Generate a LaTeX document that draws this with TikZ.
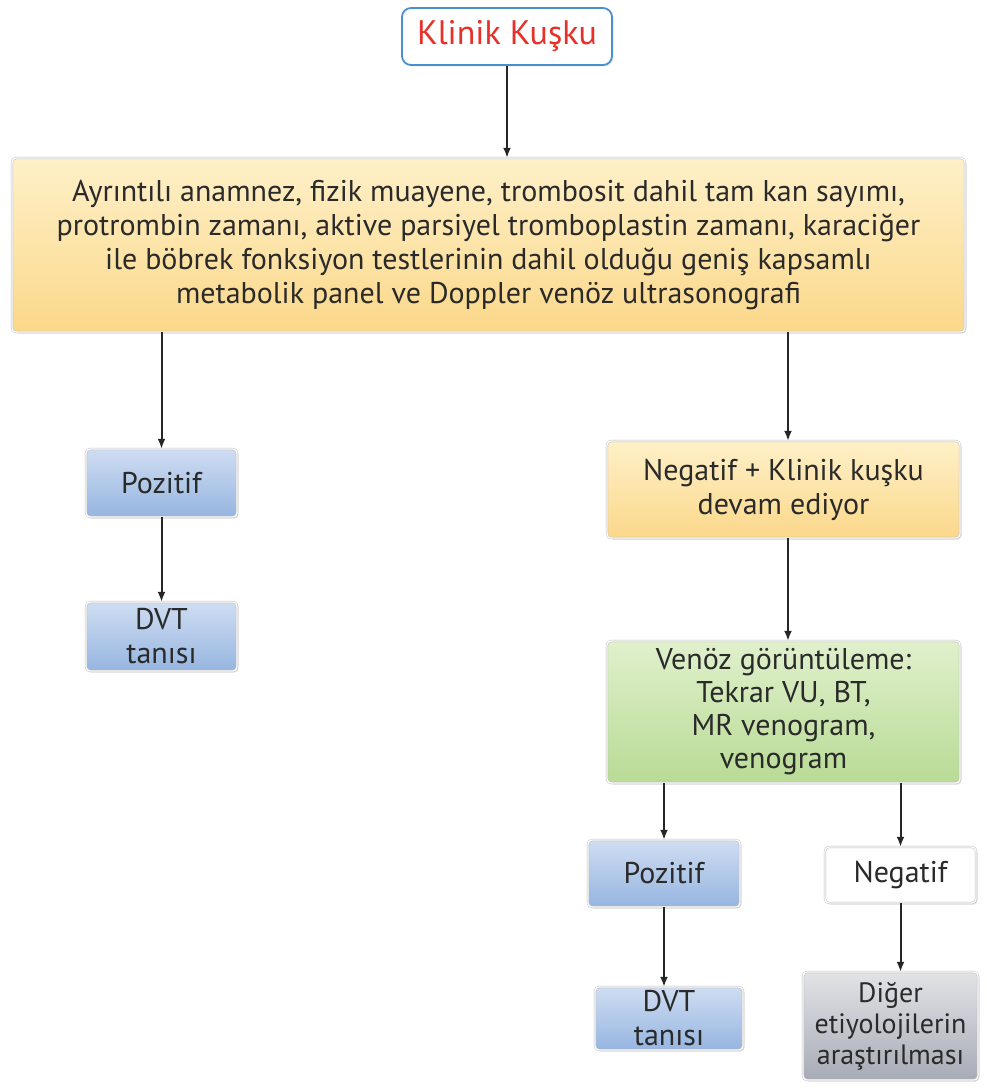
\documentclass[tikz,border=0pt]{standalone}
\usepackage{fontspec}
\setmainfont{PT Sans}
\usetikzlibrary{arrows.meta,shadows}
\definecolor{txtgray}{HTML}{2A2A2A}
\definecolor{kred}{HTML}{E8302A}
\definecolor{kblue}{HTML}{4A90D0}
\definecolor{bluetop}{HTML}{CFDDF2}
\definecolor{bluebot}{HTML}{96B5E0}
\definecolor{yeltop}{HTML}{FEF0C8}
\definecolor{yelbot}{HTML}{FBD88A}
\definecolor{grntop}{HTML}{E0F0CC}
\definecolor{grnbot}{HTML}{B8DB95}
\definecolor{grytop}{HTML}{E2E3E7}
\definecolor{grybot}{HTML}{A7ABB5}
\begin{document}
\begin{tikzpicture}
  [x=1pt,y=-1pt,
   every node/.style={text=txtgray,align=center,inner sep=0pt},
   box/.style={rounded corners=4pt,draw=gray!55,double=white,double distance=1.4pt,
     drop shadow={opacity=0.25,shadow xshift=1.5pt,shadow yshift=-1.5pt},
     font=\fontsize{30}{34}\selectfont},
   bluebox/.style={box,top color=bluetop,bottom color=bluebot},
   yelbox/.style={box,top color=yeltop,bottom color=yelbot},
   grnbox/.style={box,top color=grntop,bottom color=grnbot},
   grybox/.style={box,top color=grytop,bottom color=grybot},
   whtbox/.style={box,fill=white},
   arr/.style={-{Latex[length=10pt,width=8pt]},line width=2pt,draw=black!85}]
  \useasboundingbox (0,0) rectangle (987,1089);

  \node (klinik) [rounded corners=9pt,draw=kblue,line width=1.8pt,fill=white,text=kred,
    minimum width=210,minimum height=57,font=\fontsize{34}{38}\selectfont,
    drop shadow={opacity=0.2,shadow xshift=1.5pt,shadow yshift=-1.5pt}] at (507,36.5) {Klinik Kuşku};
  \node (genel) [yelbox,minimum width=953,minimum height=174] at (488.5,245)
    {Ayrıntılı anamnez, fizik muayene, trombosit dahil tam kan sayımı,\\
     protrombin zamanı, aktive parsiyel tromboplastin zamanı, karaciğer\\
     ile böbrek fonksiyon testlerinin dahil olduğu geniş kapsamlı\\
     metabolik panel ve Doppler venöz ultrasonografi};

  \node (poz1) [bluebox,minimum width=151,minimum height=68] at (161.5,483) {Pozitif};
  \node (dvt1) [bluebox,minimum width=151,minimum height=69] at (161.5,636.5) {DVT\\tanısı};

  \node (negk) [yelbox,minimum width=353,minimum height=97] at (783.5,489.5)
    {Negatif + Klinik kuşku\\devam ediyor};
  \node (venoz) [grnbox,minimum width=353,minimum height=142,
    font=\fontsize{30}{33}\selectfont] at (783.5,712)
    {Venöz görüntüleme:\\Tekrar VU, BT,\\MR venogram,\\venogram};

  \node (poz2) [bluebox,minimum width=152,minimum height=67] at (664,873.5) {Pozitif};
  \node (dvt2) [bluebox,minimum width=148,minimum height=63] at (669,1018.5) {DVT\\tanısı};
  \node (neg2) [whtbox,minimum width=151,minimum height=56] at (900.5,875) {Negatif};
  \node (diger) [grybox,minimum width=175,minimum height=108,
    font=\fontsize{28}{31}\selectfont] at (890.5,1026)
    {Diğer\\etiyolojilerin\\araştırılması};

  \draw[arr] (klinik.south) -- (klinik.south |- genel.north);
  \draw[arr] (genel.south -| poz1.north) -- (poz1.north);
  \draw[arr] (genel.south -| 788,0) -- (negk.north -| 788,0);
  \draw[arr] (negk.south -| 788,0) -- (venoz.north -| 788,0);
  \draw[arr] (venoz.south -| poz2.north) -- (poz2.north);
  \draw[arr] (venoz.south -| neg2.north) -- (neg2.north);
  \foreach \from/\to in {poz1/dvt1,neg2/diger}
    \draw[arr] (\from.south) -- (\from.south |- \to.north);
  \draw[arr] (poz2.south) -- (poz2.south |- dvt2.north);
\end{tikzpicture}
\end{document}
